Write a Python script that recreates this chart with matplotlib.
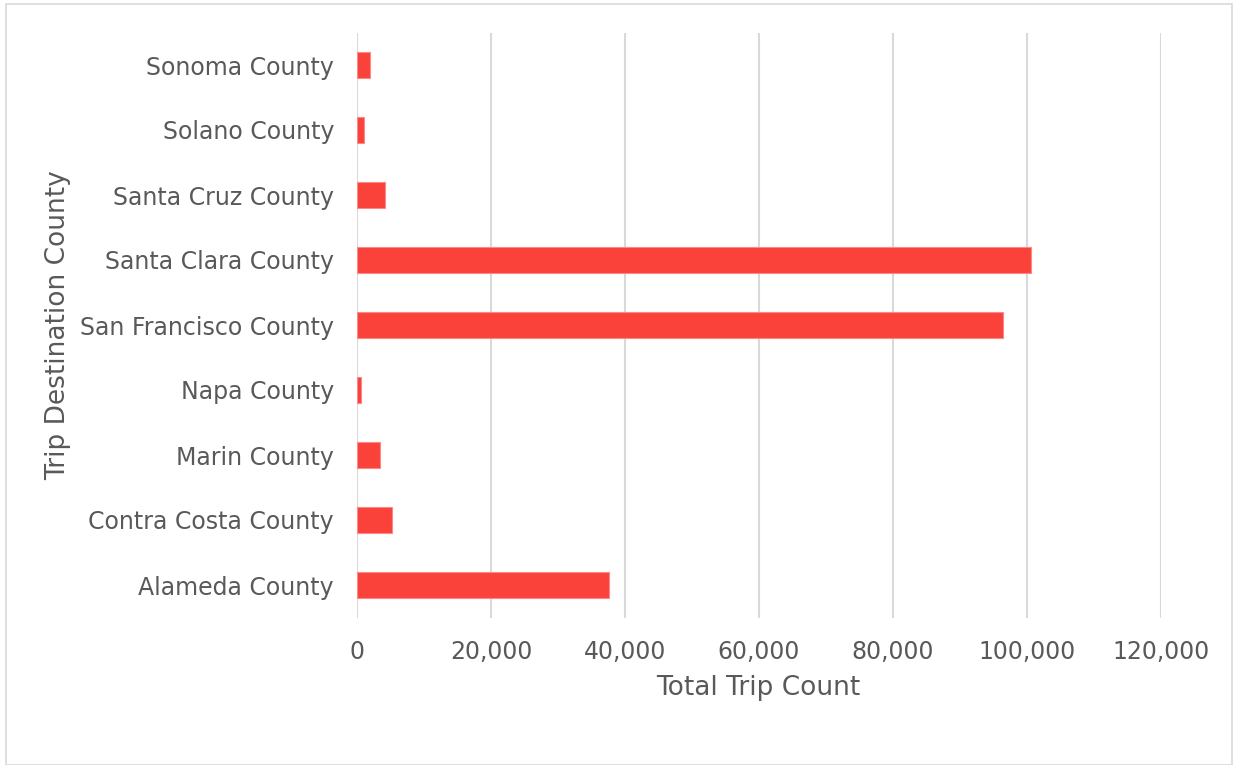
import matplotlib.pyplot as plt
from matplotlib.patches import Rectangle
from matplotlib.ticker import FuncFormatter

counties = ['Alameda County', 'Contra Costa County', 'Marin County', 'Napa County',
            'San Francisco County', 'Santa Clara County', 'Santa Cruz County',
            'Solano County', 'Sonoma County']
trip_counts = [37600, 5200, 3400, 550, 96400, 100600, 4200, 1000, 1950]

plt.rcParams['font.family'] = ['DejaVu Sans']
txt = '#595959'

fig = plt.figure(figsize=(12.33, 7.65), dpi=100)
ax = fig.add_axes([357 / 1233, 1 - 617.5 / 765, (1161 - 357) / 1233, (617.5 - 32.5) / 765])

ax.barh(counties, trip_counts, height=0.4, color='#fa423b', edgecolor='#fb8a86', linewidth=0.8, zorder=3)
ax.set_xlim(0, 120000)
ax.set_ylim(-0.5, len(counties) - 0.5)
ax.set_xticks(range(0, 120001, 20000))
ax.xaxis.set_major_formatter(FuncFormatter(lambda v, p: f'{int(v):,}'))
ax.grid(axis='x', color='#d9d9d9', linewidth=1.5, zorder=0)
for s in ax.spines.values():
    s.set_visible(False)
ax.tick_params(length=0, labelsize=17, labelcolor=txt)
ax.tick_params(axis='x', pad=16)
ax.tick_params(axis='y', pad=16.5)
ax.set_xlabel('Total Trip Count', fontsize=19, color=txt, va='center')
ax.set_ylabel('Trip Destination County', fontsize=19, color=txt, va='center')
ax.xaxis.set_label_coords((758 - 357) / 804, (617.5 - 688) / 585)
ax.yaxis.set_label_coords((58 - 357) / 804, (617.5 - 325) / 585)

fig.patches.append(Rectangle((6 / 1233, 0), 1 - 7 / 1233, 1 - 4 / 765, transform=fig.transFigure,
                             fill=False, edgecolor='#d9d9d9', linewidth=1.2))

fig.savefig('out.png', dpi=100)
